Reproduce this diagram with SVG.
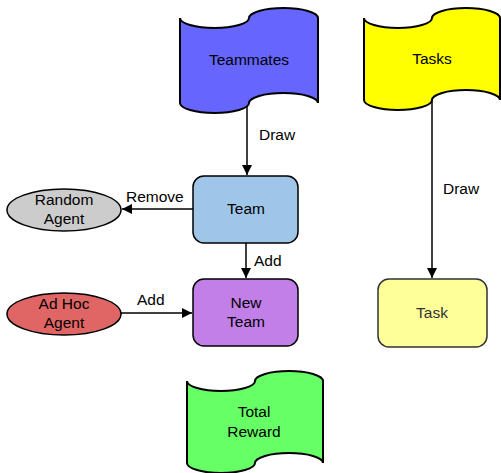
<svg xmlns="http://www.w3.org/2000/svg" width="501" height="473" viewBox="0 0 501 473">
  <defs>
    <marker id="arrow" viewBox="0 0 10 10" refX="10" refY="5" markerWidth="10" markerHeight="10" markerUnits="userSpaceOnUse" orient="auto">
      <path d="M0,0 L10,5 L0,10 Z" fill="#000"/>
    </marker>
  </defs>
  <style>
    text { font-family: "Liberation Sans", Arial, sans-serif; font-size: 15.5px; fill: #000; }
    .c { text-anchor: middle; }
    .tape { stroke: #000; stroke-width: 2; }
    .box { stroke: #000; stroke-width: 1.5; }
    .edge { fill: none; stroke: #000; stroke-width: 1.5; marker-end: url(#arrow); }
  </style>

  <g id="connectors">
    <line class="edge" x1="247" y1="104" x2="247" y2="175"/>
    <text x="259" y="140">Draw</text>
    <line class="edge" x1="432" y1="100" x2="432" y2="278"/>
    <text x="443" y="194">Draw</text>
    <line class="edge" x1="193" y1="209" x2="122" y2="209"/>
    <text x="126" y="202">Remove</text>
    <line class="edge" x1="246" y1="243" x2="246" y2="278"/>
    <text x="254" y="266">Add</text>
    <line class="edge" x1="121" y1="313" x2="192" y2="313"/>
    <text x="137" y="305">Add</text>
  </g>

  <g id="teammates">
    <path class="tape" fill="#6666ff" d="M180,18 A34.5,10 0 0 0 249,18 A34.5,10 0 0 1 318,18 L318,103 A34.5,10 0 0 0 249,103 A34.5,10 0 0 1 180,103 Z"/>
    <text class="c" x="249" y="65">Teammates</text>
  </g>

  <g id="tasks">
    <path class="tape" fill="#ffff00" d="M364,18 A34,10 0 0 0 432,18 A34,10 0 0 1 500,18 L500,100 A34,10 0 0 0 432,100 A34,10 0 0 1 364,100 Z"/>
    <text class="c" x="432" y="64">Tasks</text>
  </g>

  <g id="team">
    <rect class="box" x="193" y="176" width="105" height="67" rx="11" fill="#9fc5e8"/>
    <text class="c" x="246" y="214">Team</text>
  </g>

  <g id="random-agent">
    <ellipse class="box" cx="64" cy="210" rx="57" ry="21" fill="#cccccc"/>
    <text class="c" x="64" y="205">Random</text>
    <text class="c" x="64" y="224">Agent</text>
  </g>

  <g id="new-team">
    <rect class="box" x="193" y="279" width="105" height="67" rx="11" fill="#c27fe8"/>
    <text class="c" x="246" y="308">New</text>
    <text class="c" x="246" y="327">Team</text>
  </g>

  <g id="ad-hoc-agent">
    <ellipse class="box" cx="64" cy="314" rx="57" ry="21" fill="#e06666"/>
    <text class="c" x="64" y="309">Ad Hoc</text>
    <text class="c" x="64" y="328">Agent</text>
  </g>

  <g id="task">
    <rect x="378" y="279" width="109" height="68" rx="11" fill="#ffff99" stroke="#333" stroke-width="1.5"/>
    <text class="c" x="432" y="318" style="fill:#333">Task</text>
  </g>

  <g id="total-reward">
    <path class="tape" fill="#66ff66" d="M187,381 A34,10 0 0 0 255,381 A34,10 0 0 1 323,381 L323,463 A34,10 0 0 0 255,463 A34,10 0 0 1 187,463 Z"/>
    <text class="c" x="254" y="417">Total</text>
    <text class="c" x="254" y="437">Reward</text>
  </g>
</svg>
